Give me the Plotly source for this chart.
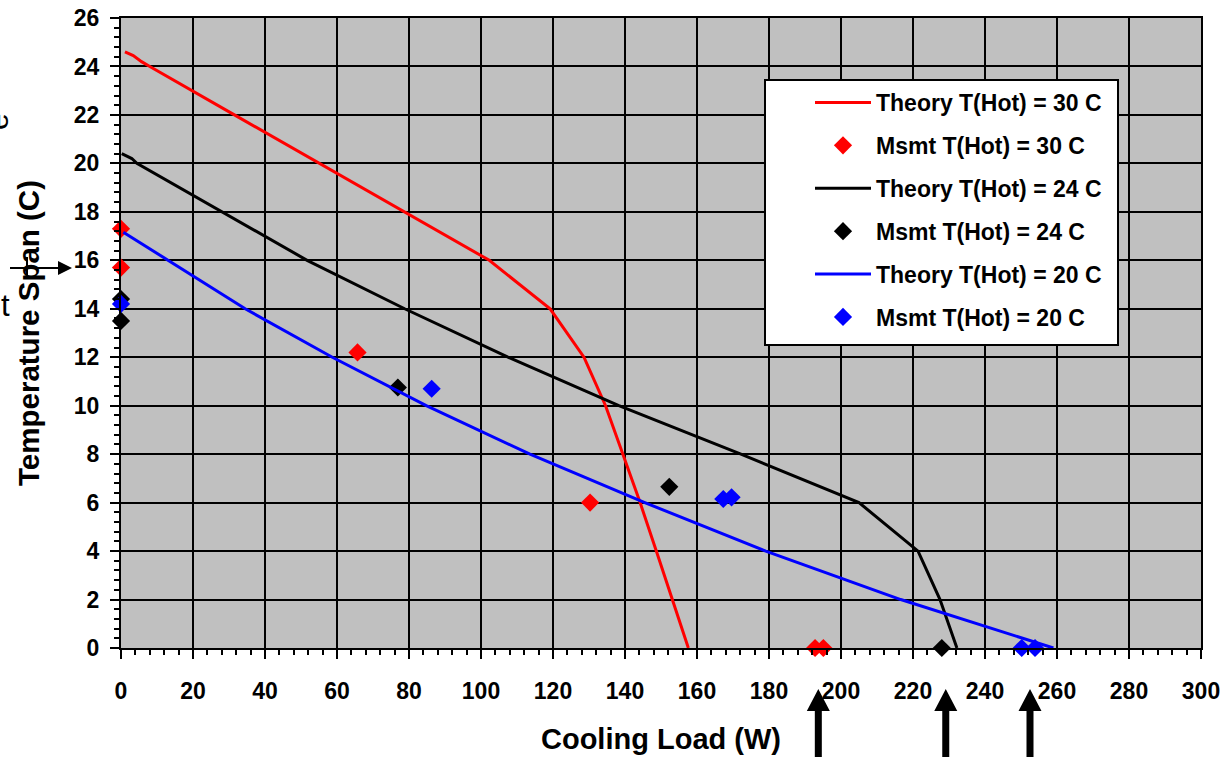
import plotly.graph_objects as go

# ---------------- data ----------------
# Theory curves: cooling load (W) vs temperature span (C)
theory30_q = [1.1, 3.4, 5.7, 8.0, 31.5, 55.0, 78.6, 102.3, 119.2, 128.6, 134.6, 139.5, 144.2, 148.7, 153.2, 157.6]
theory30_dt = [24.6, 24.45, 24.2, 24.0, 22.0, 20.0, 18.0, 16.0, 14.0, 12.0, 10.0, 8.0, 6.0, 4.0, 2.0, 0.0]

theory24_q = [0.2, 3.0, 4.4, 27.9, 51.7, 78.8, 107.5, 138.3, 172.2, 205.0, 221.4, 227.5, 232.2]
theory24_dt = [20.4, 20.2, 20.0, 18.0, 16.0, 14.0, 12.0, 10.0, 8.0, 6.0, 4.0, 2.0, 0.0]

theory20_q = [0.65, 13.0, 34.5, 58.7, 84.8, 113.6, 145.5, 179.1, 216.6, 259.0]
theory20_dt = [17.16, 16.0, 14.0, 12.0, 10.0, 8.0, 6.0, 4.0, 2.0, 0.0]

# Measurements
msmt30_q = [0, 0, 65.7, 130.3, 192.8, 195.1]
msmt30_dt = [17.3, 15.7, 12.2, 6.0, 0, 0]

msmt24_q = [0, 0, 76.9, 152.3, 228.0]
msmt24_dt = [14.4, 13.5, 10.75, 6.65, 0]

msmt20_q = [0, 86.3, 167.3, 169.6, 250.2, 253.9]
msmt20_dt = [14.2, 10.7, 6.15, 6.22, 0, 0]

# arrows under the x axis pointing at measured zero-span loads
arrow_q = [193.7, 229.1, 252.5]

x_ticks = list(range(0, 301, 20))
y_ticks = list(range(0, 27, 2))

FONT = "Liberation Sans, Arial, sans-serif"

# ---------------- geometry ----------------
W, H = 1226, 757
L, R, T, B = 121, 1201, 18, 648          # plot area in pixels


def px_x(p):
    return (p - L) / (R - L)


def px_y(p):
    return (B - p) / (B - T)


fig = go.Figure()

series = [
    ("Theory T(Hot) = 30 C", theory30_q, theory30_dt, "#FF0000", "lines"),
    ("Msmt T(Hot) = 30 C", msmt30_q, msmt30_dt, "#FF0000", "markers"),
    ("Theory T(Hot) = 24 C", theory24_q, theory24_dt, "#000000", "lines"),
    ("Msmt T(Hot) = 24 C", msmt24_q, msmt24_dt, "#000000", "markers"),
    ("Theory T(Hot) = 20 C", theory20_q, theory20_dt, "#0000FF", "lines"),
    ("Msmt T(Hot) = 20 C", msmt20_q, msmt20_dt, "#0000FF", "markers"),
]

for i, (name, xs, ys, col, mode) in enumerate(series):
    if mode == "lines":
        fig.add_trace(go.Scatter(x=xs, y=ys, mode="lines", name=name,
                                 line=dict(color=col, width=3),
                                 legendgroup=f"g{i}", cliponaxis=False))
    else:
        fig.add_trace(go.Scatter(x=xs, y=ys, mode="markers", name=name,
                                 marker=dict(color=col, symbol="diamond", size=14,
                                             line=dict(width=0)),
                                 legendgroup=f"g{i}", cliponaxis=False))

shapes = []
# legend box
shapes.append(dict(type="rect", xref="paper", yref="paper",
                   x0=px_x(765), x1=px_x(1118), y0=px_y(345), y1=px_y(80),
                   fillcolor="white", line=dict(color="black", width=2), layer="above"))

# upward arrows under the axis
for q in arrow_q:
    hw_head = 11.5 / 3.6
    hw_shaft = 3.5 / 3.6
    tip = px_y(689)
    base = px_y(711)
    bottom = px_y(770)
    path = (f"M {q},{tip} L {q + hw_head},{base} L {q + hw_shaft},{base} "
            f"L {q + hw_shaft},{bottom} L {q - hw_shaft},{bottom} "
            f"L {q - hw_shaft},{base} L {q - hw_head},{base} Z")
    shapes.append(dict(type="path", xref="x", yref="paper", path=path,
                       fillcolor="black", line=dict(color="black", width=0), layer="above"))

# stray arrow at the left edge
ya = px_y(268)
shapes.append(dict(type="line", xref="paper", yref="paper",
                   x0=px_x(10), x1=px_x(60), y0=ya, y1=ya,
                   line=dict(color="black", width=2)))
shapes.append(dict(type="path", xref="paper", yref="paper",
                   path=f"M {px_x(72)},{ya} L {px_x(58)},{px_y(261)} L {px_x(58)},{px_y(275)} Z",
                   fillcolor="black", line=dict(width=0)))
shapes.append(dict(type="line", xref="paper", yref="paper",
                   x0=px_x(27), x1=px_x(27), y0=px_y(257), y1=px_y(279),
                   line=dict(color="black", width=2)))

annotations = [
    dict(text="e", xref="paper", yref="paper", x=px_x(-2), y=px_y(122),
         xanchor="center", yanchor="middle", showarrow=False, textangle=-90,
         font=dict(family=FONT, size=30, color="black")),
    dict(text="t", xref="paper", yref="paper", x=px_x(5), y=px_y(305),
         xanchor="center", yanchor="middle", showarrow=False,
         font=dict(family=FONT, size=31, color="black")),
]

axis_common = dict(
    showgrid=True, gridcolor="black", gridwidth=2,
    showline=True, linecolor="black", linewidth=2, mirror=True,
    ticks="outside", ticklen=9, tickwidth=2, tickcolor="black",
    zeroline=False, automargin=False, ticklabeloverflow="allow",
    tickfont=dict(family=FONT, size=23, color="black", weight="bold"),
)

fig.update_layout(
    width=W, height=H,
    margin=dict(l=L, r=W - R, t=T, b=H - B),
    paper_bgcolor="white", plot_bgcolor="#C0C0C0",
    font=dict(family=FONT, color="black"),
    shapes=shapes, annotations=annotations,
    showlegend=True,
    legend=dict(x=px_x(810), y=px_y(81), xanchor="left", yanchor="top",
                bgcolor="rgba(0,0,0,0)", borderwidth=0,
                font=dict(family=FONT, size=23, color="black", weight="bold"),
                tracegroupgap=10, traceorder="grouped", itemwidth=56),
    xaxis=dict(range=[0, 300], tickvals=x_ticks,
               title=dict(text="Cooling Load (W)", standoff=26,
                          font=dict(family=FONT, size=29, color="black", weight="bold")),
               minor=dict(dtick=4, ticks="outside", ticklen=5, tickwidth=2,
                          tickcolor="black", showgrid=False),
               ticklabelstandoff=12,
               **axis_common),
    yaxis=dict(range=[0, 26], tickvals=y_ticks,
               title=dict(text="Temperature Span (C)", standoff=25,
                          font=dict(family=FONT, size=29.5, color="black", weight="bold")),
               minor=dict(dtick=0.4, ticks="outside", ticklen=5, tickwidth=2,
                          tickcolor="black", showgrid=False),
               ticklabelstandoff=6,
               **axis_common),
)

# remove the default 8px page margin so the figure sits at the window's corner
fig.write_html("out.html", config={"displayModeBar": False},
               post_script="document.body.style.margin='0';")
